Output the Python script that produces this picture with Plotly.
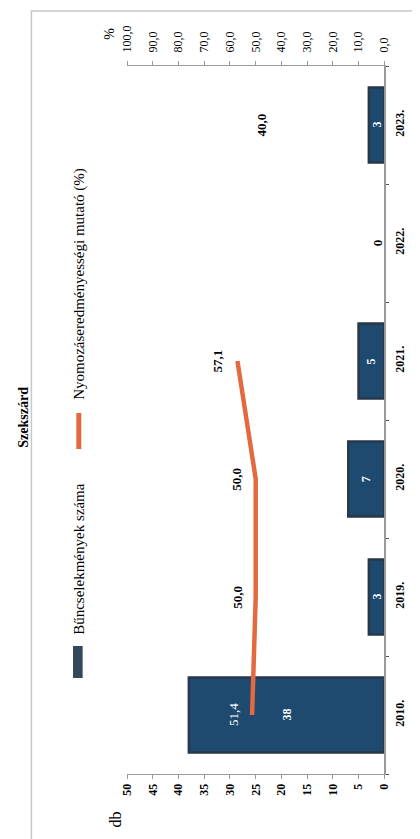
import plotly.graph_objects as go

# ---- data ----
years = ["2010.", "2019.", "2020.", "2021.", "2022.", "2023."]
crimes = [38, 3, 7, 5, 0, 3]                     # Bűncselekmények száma (db)
rate = [51.4, 50.0, 50.0, 57.1, None, 40.0]      # Nyomozáseredményességi mutató (%)
db_ticks = [0, 5, 10, 15, 20, 25, 30, 35, 40, 45, 50]
pct_ticks = [0, 10, 20, 30, 40, 50, 60, 70, 80, 90, 100]
title_text = "Szekszárd"
legend_bar = "Bűncselekmények száma"
legend_line = "Nyomozáseredményességi mutató (%)"

W, H = 420, 839
FONT = "Liberation Serif"
BAR_FILL = "#1e4a70"
BAR_EDGE = "#28374a"
LINE_COL = "#e4693f"
AXIS_COL = "#9a9a9a"


def px(x):
    return x / W


def py(y):
    return 1 - y / H


def fmt(v):
    return f"{v:.1f}".replace(".", ",")


fig = go.Figure()
fig.add_trace(go.Bar(
    x=crimes, y=years, orientation="h", width=0.635,
    marker=dict(color=BAR_FILL,
                line=dict(color=BAR_EDGE, width=[2.5 if v > 0 else 0 for v in crimes])),
    xaxis="x", yaxis="y", showlegend=False, hoverinfo="skip",
))
fig.add_trace(go.Scatter(
    x=rate, y=years, mode="lines", connectgaps=False,
    line=dict(color=LINE_COL, width=4.5),
    xaxis="x2", yaxis="y", showlegend=False, hoverinfo="skip",
))

annotations = []
# bar value labels
for i, v in enumerate(crimes):
    if v > 0:
        annotations.append(dict(x=v / 2, y=i, xref="x", yref="y", text=str(v),
                                textangle=-90, showarrow=False,
                                xanchor="center", yanchor="middle",
                                font=dict(family=FONT, size=12, color="white", weight="bold")))
    else:
        annotations.append(dict(x=0, y=i, xref="x", yref="y", text=str(v),
                                textangle=-90, showarrow=False, xshift=-6,
                                xanchor="center", yanchor="middle",
                                font=dict(family=FONT, size=13, color="black", weight="bold")))
# line value labels
for i, (v, c) in enumerate(zip(rate, crimes)):
    if v is None:
        continue
    on_bar = c > v / 2 + 4
    annotations.append(dict(x=v, y=i, xref="x2", yref="y", text=fmt(v),
                            textangle=-90, showarrow=False, xshift=-19,
                            xanchor="center", yanchor="middle",
                            font=dict(family=FONT, size=13,
                                      color="white" if on_bar else "black",
                                      weight=400 if on_bar else 700)))


def paper_text(x, y, text, size, weight=400):
    annotations.append(dict(x=px(x), y=py(y), xref="paper", yref="paper", text=text,
                            textangle=-90, showarrow=False,
                            xanchor="center", yanchor="middle",
                            font=dict(family=FONT, size=size, color="black", weight=weight)))


paper_text(103, 812, "db", 16)
paper_text(98, 26, "%", 14)
paper_text(66, 551, legend_bar, 15)
paper_text(66, 276, legend_line, 15)
paper_text(9, 409, title_text, 14, 700)

shapes = [
    # chart border
    dict(type="rect", xref="paper", yref="paper", x0=px(17), x1=px(430), y0=py(835), y1=py(3),
         line=dict(color="#c8c8c8", width=1.5), fillcolor="rgba(0,0,0,0)"),
    # legend symbols
    dict(type="rect", xref="paper", yref="paper", x0=px(60), x1=px(70), y0=py(670), y1=py(638),
         line=dict(width=0), fillcolor="#34495e"),
    dict(type="line", xref="paper", yref="paper", x0=px(66), x1=px(66), y0=py(441), y1=py(405),
         line=dict(color=LINE_COL, width=5)),
]

fig.update_layout(
    width=W, height=H,
    margin=dict(l=0, r=0, t=0, b=0),
    paper_bgcolor="white", plot_bgcolor="white",
    separators=", ",
    showlegend=False,
    annotations=annotations,
    shapes=shapes,
    xaxis=dict(domain=[px(116), px(382)], range=[50, 0], tickvals=db_ticks,
               tickangle=-90, tickfont=dict(family=FONT, size=12, color="black", weight="bold"),
               showline=True, linecolor=AXIS_COL, linewidth=1, ticks="outside", ticklen=4,
               tickcolor=AXIS_COL, showgrid=False, zeroline=False, anchor="y", side="bottom",
               fixedrange=True),
    xaxis2=dict(overlaying="x", side="top", anchor="y", range=[100, 0], tickvals=pct_ticks,
                tickformat=".1f", tickangle=-90,
                tickfont=dict(family=FONT, size=12, color="black"),
                showline=True, linecolor=AXIS_COL, linewidth=1, ticks="outside", ticklen=4,
                tickcolor=AXIS_COL, showgrid=False, zeroline=False, fixedrange=True,
                ticklabelstandoff=6),
    yaxis=dict(domain=[py(766), py(58)], type="category", categoryorder="array",
               categoryarray=years, range=[-0.5, len(years) - 0.5], side="right", anchor="x",
               showline=True, linecolor=AXIS_COL, linewidth=1.5, tickangle=-90,
               tickfont=dict(family=FONT, size=12, color="black", weight="bold"),
               ticks="outside", tickson="boundaries", ticklen=3, tickcolor="#555",
               showgrid=False, zeroline=False, fixedrange=True, ticklabelstandoff=4),
)

fig.write_html("out.html")
